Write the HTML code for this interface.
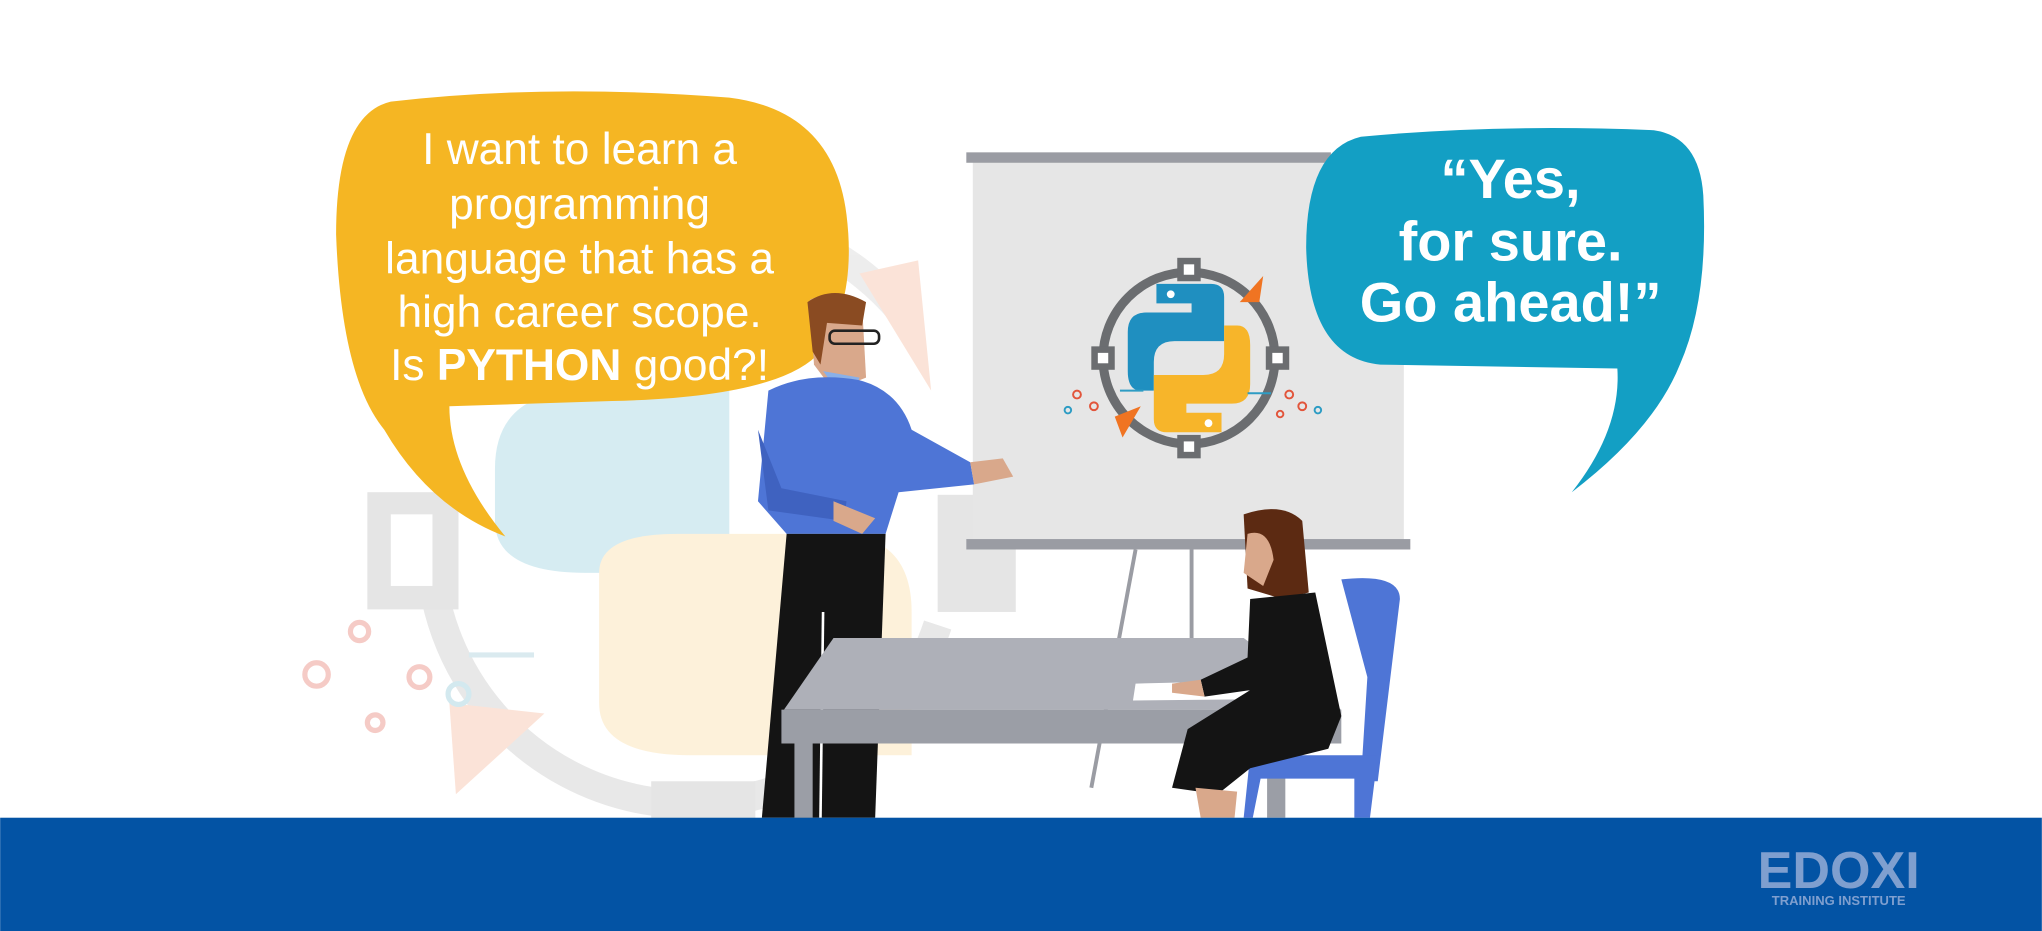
<!DOCTYPE html>
<html><head><meta charset="utf-8"><style>
html,body{margin:0;padding:0;background:#fff;overflow:hidden}
svg{display:block}
text{font-family:"Liberation Sans",sans-serif;fill:#fff}
</style></head><body>
<svg width="2042" height="931" viewBox="0 0 1568 715" xmlns="http://www.w3.org/2000/svg">
<rect width="1568" height="715" fill="#fff"/>
<!-- faded background logo -->
<g opacity="0.9">
<path d="M330 420 A200 200 0 0 0 720 480" fill="none" stroke="#e6e6e6" stroke-width="22"/>
<path d="M350 300 A200 200 0 0 1 700 250" fill="none" stroke="#ececec" stroke-width="22"/>
<rect x="282" y="378" width="70" height="90" fill="#e3e3e3"/><rect x="300" y="395" width="32" height="55" fill="#fff"/>
<rect x="720" y="380" width="60" height="90" fill="#e3e3e3"/>
<rect x="500" y="600" width="80" height="30" fill="#e3e3e3"/>
<path d="M380 360 Q380 300 450 300 L560 300 L560 440 L450 440 Q380 440 380 400Z" fill="#d2ebf1"/>
<path d="M460 440 Q460 410 520 410 L640 410 Q700 410 700 470 L700 580 L530 580 Q460 580 460 540Z" fill="#fdf0d6"/>
<path d="M660 210 L705 200 L715 300Z" fill="#fbe1d4"/>
<path d="M345 540 L418 548 L350 610Z" fill="#fbe1d4"/>
<circle cx="276" cy="485" r="7" fill="none" stroke="#f5c6c0" stroke-width="4"/>
<circle cx="243" cy="518" r="9" fill="none" stroke="#f5c6c0" stroke-width="4"/>
<circle cx="288" cy="555" r="6" fill="none" stroke="#f5c6c0" stroke-width="4"/>
<circle cx="322" cy="520" r="8" fill="none" stroke="#f5c6c0" stroke-width="4"/>
<circle cx="352" cy="533" r="8" fill="none" stroke="#cfe7ee" stroke-width="4"/>
<line x1="360" y1="503" x2="410" y2="503" stroke="#d6e8ee" stroke-width="4"/>
</g>
<!-- yellow bubble -->
<path d="M300 78 Q420 64 560 75 Q640 85 650 165 Q658 230 630 270 Q600 305 470 308 L345 312 Q345 360 388 412 Q330 390 295 330 Q262 290 258 180 Q258 88 300 78Z" fill="#f5b623"/>
<g font-size="34" text-anchor="middle">
<text x="445" y="126">I want to learn a</text>
<text x="445" y="168">programming</text>
<text x="445" y="210">language that has a</text>
<text x="445" y="251">high career scope.</text>
<text x="445" y="292">Is <tspan font-weight="bold">PYTHON</tspan> good?!</text>
</g>
<!-- whiteboard -->
<rect x="747" y="124" width="331" height="291" fill="#e6e6e6"/>
<rect x="742" y="117" width="280" height="8" fill="#9a9ca3"/>
<rect x="742" y="414" width="341" height="8" fill="#9a9ca3"/>
<line x1="872" y1="422" x2="838" y2="605" stroke="#9a9ca3" stroke-width="3"/>
<line x1="915" y1="422" x2="915" y2="500" stroke="#9a9ca3" stroke-width="3"/>
<!-- python icon -->
<circle cx="913" cy="275" r="66" fill="none" stroke="#6b6d70" stroke-width="7"/>
<g fill="#6b6d70"><rect x="904" y="198" width="18" height="18"/><rect x="904" y="334" width="18" height="18"/><rect x="838" y="266" width="18" height="18"/><rect x="972" y="266" width="18" height="18"/></g>
<g fill="#fff"><rect x="909" y="203" width="8" height="8"/><rect x="909" y="339" width="8" height="8"/><rect x="843" y="271" width="8" height="8"/><rect x="977" y="271" width="8" height="8"/></g>
<path d="M888 218 L930 218 Q940 218 940 228 L940 262 L902 262 Q886 262 886 278 L886 300 L876 300 Q866 300 866 285 L866 255 Q866 240 880 240 L915 240 L915 233 L888 233Z" fill="#1f8fc0"/>
<path d="M938 332 L896 332 Q886 332 886 322 L886 288 L924 288 Q940 288 940 272 L940 250 L950 250 Q960 250 960 265 L960 295 Q960 310 946 310 L911 310 L911 317 L938 317Z" fill="#f7b52a"/>
<circle cx="899" cy="226" r="3" fill="#fff"/><circle cx="928" cy="325" r="3" fill="#fff"/>
<path d="M952 232 L970 212 L967 232Z" fill="#f07422"/>
<path d="M856 320 L876 312 L862 336Z" fill="#f07422"/>
<g fill="none" stroke="#e2553b" stroke-width="1.5"><circle cx="827" cy="303" r="3"/><circle cx="840" cy="312" r="3"/><circle cx="990" cy="303" r="3"/><circle cx="1000" cy="312" r="3"/><circle cx="983" cy="318" r="2.5"/></g>
<g fill="none" stroke="#2d9cc4" stroke-width="1.5"><circle cx="820" cy="315" r="2.5"/><circle cx="1012" cy="315" r="2.5"/><line x1="860" y1="300" x2="878" y2="300"/><line x1="958" y1="302" x2="976" y2="302"/></g>
<!-- man -->
<path d="M622 230 Q640 222 662 235 L665 290 L640 300 L625 280Z" fill="#d9a88b"/>
<path d="M620 232 Q640 218 665 232 L662 250 L635 248 L630 280 L624 270Z" fill="#8a4b22"/>
<rect x="637" y="254" width="38" height="10" rx="4" fill="none" stroke="#222" stroke-width="2"/>
<path d="M632 285 L660 290 L652 312 Z" fill="#8ab0e8"/>
<path d="M590 300 Q620 285 660 292 Q690 300 700 330 L745 355 L748 372 L690 378 L680 410 L604 410 L582 385Z" fill="#4e75d6"/>
<path d="M582 330 L590 392 L648 400 L650 385 L600 375Z" fill="#3f62c0"/>
<path d="M745 355 L770 352 L778 366 L748 372Z" fill="#d9a88b"/>
<path d="M640 385 L672 398 L662 410 L640 400Z" fill="#d9a88b"/>
<path d="M604 410 L680 410 L672 628 L585 628Z" fill="#141414"/>
<line x1="632" y1="470" x2="630" y2="628" stroke="#fff" stroke-width="2"/>
<!-- table -->
<path d="M640 490 L955 490 L1030 545 L602 545Z" fill="#aeb0b8"/>
<rect x="600" y="545" width="430" height="26" fill="#9b9ea6"/>
<rect x="610" y="571" width="14" height="57" fill="#9b9ea6"/>
<rect x="973" y="571" width="14" height="57" fill="#9b9ea6"/>
<path d="M872 525 L955 523 L962 537 L870 538Z" fill="#fff"/>
<!-- woman -->
<path d="M1030 445 Q1075 440 1075 460 L1058 600 L1045 600 L1050 520Z" fill="#4e75d6"/>
<path d="M960 580 L1058 580 L1052 628 L1040 628 L1040 598 L968 598 L962 628 L955 628Z" fill="#4e75d6"/>
<path d="M955 395 Q985 385 1000 400 L1005 455 L985 460 L958 452Z" fill="#5c2a12"/>
<path d="M958 410 Q975 405 978 430 L970 450 L955 440Z" fill="#d9a88b"/>
<path d="M960 460 L1010 455 L1030 550 L1020 575 L960 590 L935 610 L900 605 L912 560 L960 530 L925 535 L922 522 L958 505Z" fill="#141414"/>
<path d="M900 525 L922 522 L925 535 L900 532Z" fill="#d9a88b"/>
<path d="M918 605 L950 608 L948 628 L922 628Z" fill="#d9a88b"/>
<!-- blue bubble -->
<path d="M1045 105 Q1150 95 1270 100 Q1305 105 1308 150 Q1312 230 1290 280 Q1270 330 1207 378 Q1245 330 1242 283 L1060 280 Q1005 275 1003 190 Q1003 115 1045 105Z" fill="#139fc4"/>
<g font-size="43" font-weight="bold" text-anchor="middle">
<text x="1160" y="152">“Yes,</text>
<text x="1160" y="200">for sure.</text>
<text x="1160" y="247">Go ahead!”</text>
</g>
<!-- footer -->
<rect x="0" y="628" width="1568" height="87" fill="#0353a4"/>
<text x="1412" y="682" font-size="40" font-weight="bold" text-anchor="middle" style="fill:#7f9fcf">EDOXI</text>
<text x="1412" y="695" font-size="10" font-weight="bold" text-anchor="middle" style="fill:#7f9fcf">TRAINING INSTITUTE</text>
</svg>
</body></html>
